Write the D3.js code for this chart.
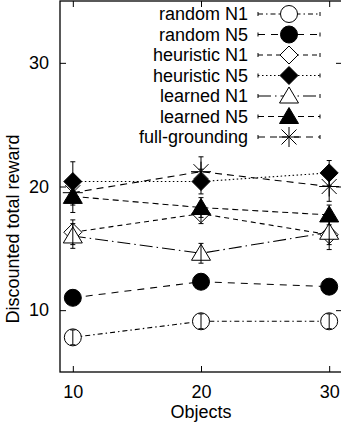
<!DOCTYPE html>
<html><head><meta charset="utf-8">
<script src="https://cdn.jsdelivr.net/npm/d3@7"></script>
<style>
html,body{margin:0;padding:0;background:#fff;}
svg text{font-family:"Liberation Sans",Arial,Helvetica,sans-serif;fill:#000;}
</style></head>
<body><svg id="c" width="341" height="431"></svg>
<script>
const objects = [10, 20, 30];
const seriesNames = ["random N1","random N5","heuristic N1","heuristic N5","learned N1","learned N5","full-grounding"];
const randomN1 = [7.8, 9.1, 9.1];
const randomN1Err = [0.6, 0.6, 0.6];
const randomN5 = [11.0, 12.3, 11.9];
const randomN5Err = [0.5, 0.4, 0.4];
const heuristicN1 = [16.3, 17.8, 16.1];
const heuristicN1Err = [1.0, 0.8, 1.2];
const heuristicN5 = [20.4, 20.4, 21.1];
const heuristicN5Err = [1.6, 1.0, 1.0];
const learnedN1 = [16.0, 14.6, 16.3];
const learnedN1Err = [1.0, 0.8, 1.0];
const learnedN5 = [19.2, 18.3, 17.7];
const learnedN5Err = [1.3, 0.8, 0.8];
const fullGrounding = [19.5, 21.2, 20.0];
const fullGroundingErr = [1.0, 1.2, 1.2];
const xTicks = [10, 20, 30];
const yTicks = [10, 20, 30];

const series = [
  {name: seriesNames[0], v: randomN1, e: randomN1Err, sym: "circleOpen", dash: "5,3,1.5,3"},
  {name: seriesNames[1], v: randomN5, e: randomN5Err, sym: "circleFill", dash: "7,6"},
  {name: seriesNames[2], v: heuristicN1, e: heuristicN1Err, sym: "diamondOpen", dash: "5,4"},
  {name: seriesNames[3], v: heuristicN5, e: heuristicN5Err, sym: "diamondFill", dash: "1.5,2.5"},
  {name: seriesNames[4], v: learnedN1, e: learnedN1Err, sym: "triOpen", dash: "13,4,1.5,4"},
  {name: seriesNames[5], v: learnedN5, e: learnedN5Err, sym: "triFill", dash: "6,4"},
  {name: seriesNames[6], v: fullGrounding, e: fullGroundingErr, sym: "star", dash: "7,5"}
];

const svg = d3.select("#c");
const L = 60, T = 1, R = 342, B = 372;
const x = d3.scaleLinear().domain([9, 31]).range([L, R]);
const y = d3.scaleLinear().domain([5, 35]).range([B, T]);

svg.append("rect").attr("x", L).attr("y", T).attr("width", R - L).attr("height", B - T)
  .attr("fill", "none").attr("stroke", "#000").attr("stroke-width", 1.3);

const fs = 18;
const ax = (g) => g.call(s => s.selectAll("text").attr("font-size", fs).attr("font-family", "Liberation Sans, Arial, sans-serif"))
  .call(s => s.selectAll("line").attr("stroke", "#000"));

svg.append("g").attr("transform", `translate(0,${B})`)
  .call(d3.axisBottom(x).tickValues(xTicks).tickSizeInner(-6).tickSizeOuter(0).tickPadding(13)).call(ax);
svg.append("g").attr("transform", `translate(0,${T})`)
  .call(d3.axisTop(x).tickValues(xTicks).tickSizeInner(-6).tickSizeOuter(0).tickFormat(""));
svg.append("g").attr("transform", `translate(${L},0)`)
  .call(d3.axisLeft(y).tickValues(yTicks).tickSizeInner(-6).tickSizeOuter(0).tickPadding(11)).call(ax);
svg.append("g").attr("transform", `translate(${R},0)`)
  .call(d3.axisRight(y).tickValues(yTicks).tickSizeInner(-6).tickSizeOuter(0).tickFormat(""));
svg.selectAll(".domain").remove();

svg.append("text").attr("x", 201).attr("y", 418).attr("text-anchor", "middle").attr("font-size", fs).text("Objects");
svg.append("text").attr("transform", `translate(19,229) rotate(-90)`).attr("text-anchor", "middle")
  .attr("font-size", fs).text("Discounted total reward");

function drawSym(g, type, cx, cy) {
  const s = g.append("g").attr("transform", `translate(${cx},${cy})`);
  if (type === "circleOpen" || type === "circleFill") {
    s.append("circle").attr("r", 8.5).attr("fill", type === "circleFill" ? "#000" : "#fff").attr("stroke", "#000");
  } else if (type === "diamondOpen" || type === "diamondFill") {
    s.append("path").attr("d", "M0,-9L9,0L0,9L-9,0Z").attr("fill", type === "diamondFill" ? "#000" : "#fff").attr("stroke", "#000");
  } else if (type === "triOpen" || type === "triFill") {
    s.append("path").attr("d", "M0,-9L9.5,7L-9.5,7Z").attr("fill", type === "triFill" ? "#000" : "#fff").attr("stroke", "#000");
  } else if (type === "star") {
    s.append("path").attr("d", "M-10,0H10M0,-10V10M-7.5,-7.5L7.5,7.5M-7.5,7.5L7.5,-7.5").attr("stroke", "#000").attr("stroke-width", 1);
  }
  return s;
}

const plot = svg.append("g");
series.forEach(sr => {
  const pts = objects.map((o, i) => [x(o), y(sr.v[i])]);
  plot.append("path").attr("d", d3.line()(pts)).attr("fill", "none").attr("stroke", "#000")
    .attr("stroke-width", 1.1).attr("stroke-dasharray", sr.dash);
});
series.forEach(sr => {
  objects.forEach((o, i) => {
    const cx = x(o), cy = y(sr.v[i]);
    drawSym(plot, sr.sym, cx, cy);
    const y0 = y(sr.v[i] - sr.e[i]), y1 = y(sr.v[i] + sr.e[i]);
    plot.append("path").attr("d", `M${cx},${y0}V${y1}M${cx-2.5},${y0}H${cx+2.5}M${cx-2.5},${y1}H${cx+2.5}`)
      .attr("stroke", "#000").attr("stroke-width", 1).attr("fill", "none");
  });
});

const leg = svg.append("g");
const rowY0 = 14, rowH = 20.5;
series.forEach((sr, i) => {
  const cy = rowY0 + i * rowH;
  leg.append("text").attr("x", 248).attr("y", cy).attr("dy", "0.35em").attr("text-anchor", "end")
    .attr("font-size", fs).text(sr.name);
  leg.append("path").attr("d", `M258,${cy-2}V${cy+2}M320,${cy-2}V${cy+2}`)
    .attr("stroke", "#000").attr("stroke-width", 1).attr("fill", "none");
  leg.append("line").attr("x1", 258).attr("x2", 320).attr("y1", cy).attr("y2", cy)
    .attr("stroke", "#000").attr("stroke-width", 1.1).attr("stroke-dasharray", sr.dash);
  drawSym(leg, sr.sym, 289, cy);
});
</script></body></html>
